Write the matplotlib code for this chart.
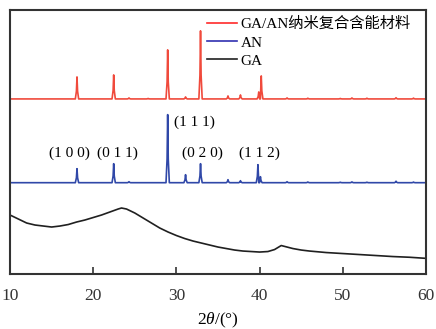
import numpy as np
import matplotlib
matplotlib.use('Agg')
import matplotlib.pyplot as plt

plt.rcParams['font.family'] = ['Liberation Serif', 'Noto Sans CJK SC']
plt.rcParams['mathtext.fontset'] = 'custom'
plt.rcParams['mathtext.it'] = 'Liberation Serif:italic'
plt.rcParams['mathtext.rm'] = 'Liberation Serif'

# peak positions (2theta, deg) and heights (a.u.)
red_pos = [18.05, 22.46, 24.3, 26.6, 28.95, 31.1, 32.9, 36.2, 37.7, 39.9, 40.2,
           43.3, 45.8, 49.7, 51.1, 52.9, 56.4, 58.5]
red_h = [22, 24, 1, 0.5, 49, 2, 68, 3, 4, 7, 23, 1, 0.7, 0.5, 1, 0.7, 1.2, 0.8]

blue_pos = [18.05, 22.46, 24.3, 28.95, 31.1, 32.9, 36.2, 37.7, 39.8, 40.1,
            43.3, 45.8, 49.7, 51.1, 52.9, 56.4, 58.5]
blue_h = [14, 19, 1, 68, 8, 19, 3, 2, 18, 6, 1, 0.7, 0.5, 0.8, 0.5, 1.5, 0.6]

# GA amorphous curve
ga_x = [10, 11, 12, 13, 14, 15, 16, 17, 18, 19, 20, 21, 22, 23, 23.4, 24, 25, 26,
        27, 28, 29, 30, 31, 32, 33, 34, 35, 36, 37, 38, 39, 40, 41, 41.8, 42.6,
        43.3, 44, 45, 46, 48, 50, 52, 54, 56, 58, 60]
ga_y = [59, 55, 51, 49, 48, 47, 48, 49.5, 52, 54, 56.5, 59, 62, 65, 66, 65, 61,
        56, 51, 46, 42, 38.5, 35.5, 33, 31, 29, 27, 25.5, 24, 23, 22.5, 22, 22.5,
        24.5, 28.5, 27, 25.5, 24, 23, 21.5, 20.5, 19.5, 18.5, 17.5, 16.8, 15.7]

red_offset = 175
blue_offset = 91.3

labels = ['(1 0 0)', '(0 1 1)', '(1 1 1)', '(0 2 0)', '(1 1 2)']
label_x = [17.2, 22.9, 32.2, 33.1, 40.0]
label_y = [121, 121, 152, 121, 121]


def pattern(pos, h, base, w=0.2):
    xs = [10]
    ys = [base]
    for p, v in zip(pos, h):
        xs += [p - w, p - w * 0.35, p, p + w * 0.35, p + w]
        ys += [base, base + v * 0.35, base + v, base + v * 0.35, base]
    xs.append(60)
    ys.append(base)
    xs = np.array(xs)
    ys = np.array(ys)
    order = np.argsort(xs, kind='stable')
    return xs[order], ys[order]


fig = plt.figure(figsize=(4.36, 3.29), dpi=100)
ax = fig.add_axes([0.023, 0.167, 0.954, 0.803])

x, y = pattern(red_pos, red_h, red_offset)
ax.plot(x, y, color='#f04a3c', lw=1.2, label='GA/AN纳米复合含能材料')
x, y = pattern(blue_pos, blue_h, blue_offset)
ax.plot(x, y, color='#3048a8', lw=1.2, label='AN')
ax.plot(ga_x, ga_y, color='#202020', lw=1.2, label='GA')

for t, lx, ly in zip(labels, label_x, label_y):
    ax.text(lx, ly, t, ha='center', va='center', fontsize=11)

ax.set_xlim(10, 60)
ax.set_ylim(0, 264)
ax.set_xticks([10, 20, 30, 40, 50, 60])
ax.set_yticks([])
ax.tick_params(axis='x', direction='in', length=5, width=1.2, labelsize=12.5, pad=10,
               colors='#333333')
for s in ax.spines.values():
    s.set_linewidth(1.5)
    s.set_color('#333333')

ax.set_xlabel(r'2$\it{\theta}$/(°)', fontsize=12.5, labelpad=5)

leg = ax.legend(loc='upper left', bbox_to_anchor=(0.44, 1.025), frameon=False, fontsize=11,
                handlelength=2.0, handletextpad=0.2, labelspacing=0.3)
leg.get_lines()[0].set_color('#ff2a2a')
leg.get_lines()[1].set_color('#3030b0')

plt.savefig('out.png', dpi=100)
